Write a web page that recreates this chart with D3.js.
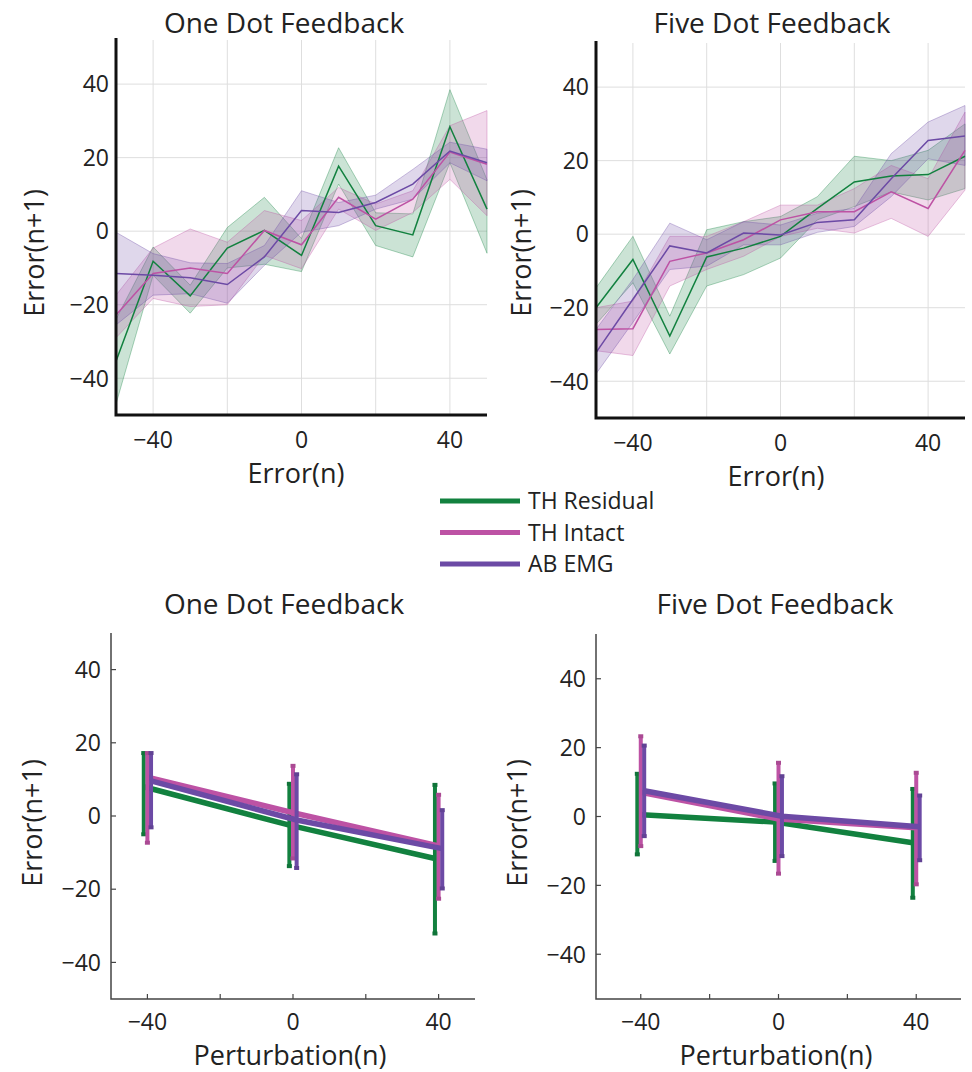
<!DOCTYPE html>
<html>
<head>
<meta charset="utf-8">
<script src="https://cdn.jsdelivr.net/npm/d3@7"></script>
<style>
  body { margin: 0; background: #fff; }
  svg { font-family: "Open Sans", sans-serif; }
</style>
</head>
<body>
<svg width="972" height="1072"></svg>
<script>
var seriesNames = ["TH Residual", "TH Intact", "AB EMG"];
var seriesColors = ["#12813f", "#bd52a4", "#6c4aa5"];

// top row: binned error(n) vs error(n+1), mean with shaded band
var errorBins = [-50, -40, -30, -20, -10, 0, 10, 20, 30, 40, 50];

var oneResid   = [-35.4, -8.2, -17.6, -4.6, 0.2, -6.6, 17.7, 1.5, -1, 28.4, 6];
var oneResidHi = [-24, -4.3, -14.7, 1, 9.2, -2, 22.7, 5, 4.7, 38.5, 14];
var oneResidLo = [-47, -12, -22.3, -10, -9, -11, 12.8, -3.9, -7, 18.6, -6];
var oneIntact   = [-22.8, -11.5, -10, -11.5, 0.2, -3.7, 9.2, 3.3, 8.7, 21.5, 18.2];
var oneIntactHi = [-17.4, -4.6, 0.6, -3, 5.6, 2.9, 11.9, 7.4, 11, 28.7, 32.8];
var oneIntactLo = [-29, -18.3, -20.5, -20, -6.6, -10.2, 6, 0.2, 5.1, 14.1, 4.2];
var oneEmg   = [-11.5, -12, -12.7, -14.5, -7, 5.6, 5.1, 7.8, 12.8, 21.8, 18.6];
var oneEmgHi = [-0.3, -6.1, -8.6, -8.8, -3.9, 11, 7.8, 9.8, 16.8, 24.2, 22.3];
var oneEmgLo = [-25.5, -17.4, -17, -19.6, -9.3, -0.3, 1.5, 6, 8.7, 18.6, 13.7];

var fiveResid   = [-20, -6.9, -27.7, -6.2, -3.8, -0.6, 7, 14.2, 15.8, 16.2, 21.2];
var fiveResidHi = [-14.6, -0.6, -22.3, 1.2, 3.4, 4.8, 10.2, 21.2, 20, 22.8, 30];
var fiveResidLo = [-24.5, -13.2, -32.6, -14.1, -11, -6.5, 3.9, 7.5, 11.5, 9.3, 12.4];
var fiveIntact   = [-25.9, -25.7, -7.4, -5.1, -1.5, 3.9, 6.1, 6.1, 11.5, 7, 22.8];
var fiveIntactHi = [-20, -18.2, -0.6, -0.6, 3.4, 7.9, 7.9, 12.4, 18.7, 15.1, 33.2];
var fiveIntactLo = [-31.7, -33, -14.1, -9.6, -6, -0.6, 1.6, 0.3, 4.3, -0.6, 12];
var fiveEmg   = [-32.2, -17.7, -3.2, -5.1, 0.3, -0.2, 3.2, 3.9, 15.1, 25.5, 26.7];
var fiveEmgHi = [-25.9, -12.3, 3, -1.5, 3.4, 2.5, 5.7, 7, 21.9, 30.5, 35];
var fiveEmgLo = [-38, -24, -9.6, -8.7, -2.9, -2.9, 0.5, 2.1, 10.2, 20.5, 18.7];

// bottom row: perturbation(n) vs error(n+1), mean with error bars
var perturbations = [-40, 0, 40];

var onePertResid   = [8, -2.5, -11.6];
var onePertResidHi = [17.2, 8.8, 8.5];
var onePertResidLo = [-5, -13.7, -32.1];
var onePertIntact   = [10.6, 0.9, -8.2];
var onePertIntactHi = [17.2, 13.7, 5.8];
var onePertIntactLo = [-7.3, -11.6, -22.6];
var onePertEmg   = [9.6, -1.1, -8.9];
var onePertEmgHi = [17.2, 11.4, 1.6];
var onePertEmgLo = [-3.1, -14.2, -19.8];

var fivePertResid   = [0.6, -1.6, -7.6];
var fivePertResidHi = [12.4, 9.6, 8];
var fivePertResidLo = [-11, -12.9, -23.6];
var fivePertIntact   = [7, -0.7, -3.3];
var fivePertIntactHi = [23.3, 15.6, 12.7];
var fivePertIntactLo = [-8.6, -16.6, -19.7];
var fivePertEmg   = [7.5, 0.1, -3];
var fivePertEmgHi = [20.6, 11.7, 6.1];
var fivePertEmgLo = [-5.7, -11.5, -12.7];

var svg = d3.select("svg");

function series(mean, lo, hi) {
  return mean.map(function(m, i) { return {m: m, lo: lo[i], hi: hi[i]}; });
}
function tickText(d) { return d < 0 ? "\u2212" + (-d) : d; }

function bandPanel(p) {
  var x = d3.scaleLinear().domain([-50, 50]).range([p.x0, p.x1]);
  var y = d3.scaleLinear().domain([-50, 52]).range([p.y1, p.y0]);
  var g = svg.append("g");

  // grid
  g.selectAll(".vg").data([-40, -20, 0, 20, 40]).enter().append("line")
    .attr("x1", x).attr("x2", x).attr("y1", p.y0).attr("y2", p.y1)
    .attr("stroke", "#dedede").attr("stroke-width", 1);
  g.selectAll(".hg").data([-40, -20, 0, 20, 40]).enter().append("line")
    .attr("y1", y).attr("y2", y).attr("x1", p.x0).attr("x2", p.x1)
    .attr("stroke", "#dedede").attr("stroke-width", 1);

  var area = d3.area()
    .x(function(d, i) { return x(errorBins[i]); })
    .y0(function(d) { return y(d.lo); })
    .y1(function(d) { return y(d.hi); });
  var line = d3.line()
    .x(function(d, i) { return x(errorBins[i]); })
    .y(function(d) { return y(d.m); });

  p.data.forEach(function(s, k) {
    g.append("path").datum(s).attr("d", area)
      .attr("fill", seriesColors[k]).attr("fill-opacity", 0.22)
      .attr("stroke", seriesColors[k]).attr("stroke-opacity", 0.35).attr("stroke-width", 1);
  });
  p.data.forEach(function(s, k) {
    g.append("path").datum(s).attr("d", line)
      .attr("fill", "none").attr("stroke", seriesColors[k]).attr("stroke-width", 1.5);
  });

  // axes
  g.append("path")
    .attr("d", "M" + p.x0 + "," + (p.y0 - 2) + "V" + p.y1 + "H" + p.x1)
    .attr("fill", "none").attr("stroke", "#111").attr("stroke-width", 3);

  g.selectAll(".yt").data([-40, -20, 0, 20, 40]).enter().append("text")
    .attr("x", p.x0 - 7).attr("y", y).attr("dy", "0.36em")
    .attr("text-anchor", "end").attr("font-size", 23).attr("fill", "#222")
    .text(tickText);
  g.selectAll(".xt").data([-40, 0, 40]).enter().append("text")
    .attr("x", x).attr("y", p.y1 + 33)
    .attr("text-anchor", "middle").attr("font-size", 23).attr("fill", "#222")
    .text(tickText);

  g.append("text").attr("x", p.titleX).attr("y", 33).attr("text-anchor", "middle")
    .attr("font-size", 28).attr("fill", "#222").text(p.title);
  g.append("text").attr("x", p.xlabX).attr("y", p.y1 + 68).attr("text-anchor", "middle")
    .attr("font-size", 27).attr("fill", "#222").text("Error(n)");
  g.append("text").attr("transform", "translate(" + p.ylabX + ",253) rotate(-90)")
    .attr("text-anchor", "middle").attr("font-size", 27).attr("fill", "#222").text("Error(n+1)");
}

function barPanel(p) {
  var x = d3.scaleLinear().domain(p.dom).range([p.x0, p.x1]);
  var y = d3.scaleLinear().domain(p.dom).range([p.y1, p.y0]);
  var g = svg.append("g");
  var dodge = [-1, 0, 1];

  p.data.forEach(function(s, k) {
    var px = function(i) { return x(perturbations[i] + dodge[k]); };
    var bars = g.append("g");
    s.forEach(function(d, i) {
      bars.append("line")
        .attr("x1", px(i)).attr("x2", px(i)).attr("y1", y(d.lo)).attr("y2", y(d.hi))
        .attr("stroke", seriesColors[k]).attr("stroke-width", 4);
      [d.lo, d.hi].forEach(function(v) {
        bars.append("line")
          .attr("x1", px(i) - 2.5).attr("x2", px(i) + 2.5).attr("y1", y(v)).attr("y2", y(v))
          .attr("stroke", d3.color(seriesColors[k]).darker(0.3)).attr("stroke-width", 4);
      });
    });
    g.append("path").datum(s)
      .attr("d", d3.line().x(function(d, i) { return px(i); }).y(function(d) { return y(d.m); }))
      .attr("fill", "none").attr("stroke", seriesColors[k]).attr("stroke-width", 5.5);
  });

  g.append("path")
    .attr("d", "M" + p.x0 + "," + p.y0 + "V" + p.y1 + "H" + p.x1)
    .attr("fill", "none").attr("stroke", "#444").attr("stroke-width", 1.5);
  g.selectAll(".xk").data([-40, -20, 0, 20, 40]).enter().append("line")
    .attr("x1", x).attr("x2", x).attr("y1", p.y1).attr("y2", p.y1 - 5)
    .attr("stroke", "#444").attr("stroke-width", 1.2);
  g.selectAll(".yk").data([-40, -20, 0, 20, 40]).enter().append("line")
    .attr("y1", y).attr("y2", y).attr("x1", p.x0).attr("x2", p.x0 + 5)
    .attr("stroke", "#444").attr("stroke-width", 1.2);

  g.selectAll(".yt").data([-40, -20, 0, 20, 40]).enter().append("text")
    .attr("x", p.x0 - 10).attr("y", y).attr("dy", "0.36em")
    .attr("text-anchor", "end").attr("font-size", 23).attr("fill", "#222")
    .text(tickText);
  g.selectAll(".xt").data([-40, 0, 40]).enter().append("text")
    .attr("x", x).attr("y", p.y1 + 31)
    .attr("text-anchor", "middle").attr("font-size", 23).attr("fill", "#222")
    .text(tickText);

  g.append("text").attr("x", p.titleX).attr("y", 614).attr("text-anchor", "middle")
    .attr("font-size", 28).attr("fill", "#222").text(p.title);
  g.append("text").attr("x", p.xlabX).attr("y", p.y1 + 66).attr("text-anchor", "middle")
    .attr("font-size", 27).attr("fill", "#222").text("Perturbation(n)");
  g.append("text").attr("transform", "translate(" + p.ylabX + ",823) rotate(-90)")
    .attr("text-anchor", "middle").attr("font-size", 27).attr("fill", "#222").text("Error(n+1)");
}

bandPanel({
  x0: 116, x1: 487, y0: 40, y1: 415, title: "One Dot Feedback", titleX: 284, xlabX: 296, ylabX: 44,
  data: [series(oneResid, oneResidLo, oneResidHi), series(oneIntact, oneIntactLo, oneIntactHi), series(oneEmg, oneEmgLo, oneEmgHi)]
});
bandPanel({
  x0: 596, x1: 965, y0: 43, y1: 418, title: "Five Dot Feedback", titleX: 772, xlabX: 776, ylabX: 531,
  data: [series(fiveResid, fiveResidLo, fiveResidHi), series(fiveIntact, fiveIntactLo, fiveIntactHi), series(fiveEmg, fiveEmgLo, fiveEmgHi)]
});
barPanel({
  x0: 111, x1: 475, y0: 633, y1: 999, dom: [-50, 50], title: "One Dot Feedback", titleX: 284, xlabX: 290, ylabX: 42,
  data: [series(onePertResid, onePertResidLo, onePertResidHi), series(onePertIntact, onePertIntactLo, onePertIntactHi), series(onePertEmg, onePertEmgLo, onePertEmgHi)]
});
barPanel({
  x0: 596, x1: 961, y0: 634, y1: 999, dom: [-53, 53], title: "Five Dot Feedback", titleX: 775, xlabX: 776, ylabX: 527,
  data: [series(fivePertResid, fivePertResidLo, fivePertResidHi), series(fivePertIntact, fivePertIntactLo, fivePertIntactHi), series(fivePertEmg, fivePertEmgLo, fivePertEmgHi)]
});

// legend
var legend = svg.append("g").attr("transform", "translate(440,501)");
legend.selectAll("g").data(seriesNames).enter().append("g")
  .attr("transform", function(d, i) { return "translate(0," + (i * 31.5) + ")"; })
  .each(function(d, i) {
    var row = d3.select(this);
    row.append("line").attr("x1", 0).attr("x2", 80).attr("y1", 0).attr("y2", 0)
      .attr("stroke", seriesColors[i]).attr("stroke-width", 5);
    row.append("text").attr("x", 88).attr("y", 0).attr("dy", "0.35em")
      .attr("font-size", 23).attr("fill", "#222").text(d);
  });
</script>
</body>
</html>
